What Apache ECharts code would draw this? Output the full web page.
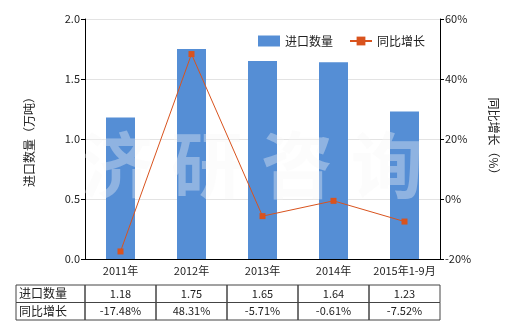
<!DOCTYPE html>
<html><head><meta charset="utf-8">
<script src="https://cdn.jsdelivr.net/npm/echarts@6/dist/echarts.min.js"></script>
<style>html,body{margin:0;padding:0;background:#fff}#c{width:520px;height:330px}</style>
</head><body><div id="c"></div>
<script>
const categories = ['2011年','2012年','2013年','2014年','2015年1-9月'];
const importQty = [1.18, 1.75, 1.65, 1.64, 1.23];
const yoyGrowth = [-17.48, 48.31, -5.71, -0.61, -7.52];
const seriesNames = ['进口数量', '同比增长'];
const leftAxisName = '进口数量（万吨）';
const rightAxisName = '同比增长（%）';
const watermark = '济研咨询';

const FONT = '"Noto Sans CJK SC", "Microsoft YaHei", sans-serif';
const chart = echarts.init(document.getElementById('c'), null, {renderer:'canvas'});
const option = {
  animation: false,
  backgroundColor: '#fff',
  textStyle: {fontFamily: FONT},
  legend: {
    top: 30, left: 253,
    itemWidth: 22, itemHeight: 11, itemGap: 16,
    textStyle: {fontSize: 12, color: '#222', fontFamily: FONT},
    data: [{name: seriesNames[0], icon: 'rect'}, {name: seriesNames[1]}]
  },
  grid: {left: 85, right: 80, top: 19, bottom: 71},
  xAxis: {
    type: 'category', data: categories,
    axisLine: {lineStyle: {color: '#000'}},
    axisTick: {alignWithLabel: true, length: 4, lineStyle: {color: '#000'}},
    axisLabel: {color: '#222', fontSize: 11, margin: 6, interval: 0, fontFamily: FONT}
  },
  yAxis: [{
    type: 'value', min: 0, max: 2, interval: 0.5,
    name: leftAxisName, nameLocation: 'middle', nameGap: 50, nameRotate: 90,
    nameTextStyle: {fontSize: 12, color: '#222', fontFamily: FONT},
    axisLine: {show: true, lineStyle: {color: '#000'}},
    axisTick: {show: true, length: 4, lineStyle: {color: '#000'}},
    axisLabel: {color: '#222', fontSize: 11, margin: 5, formatter: v => v.toFixed(1)},
    splitLine: {lineStyle: {color: '#e3e3e3'}}
  }, {
    type: 'value', min: -20, max: 60, interval: 20, position: 'right',
    name: rightAxisName, nameLocation: 'middle', nameGap: 48, nameRotate: -90,
    nameTextStyle: {fontSize: 12, color: '#222', fontFamily: FONT},
    axisLine: {show: true, lineStyle: {color: '#000'}},
    axisTick: {show: true, length: 4, lineStyle: {color: '#000'}},
    axisLabel: {color: '#222', fontSize: 11, margin: 5, formatter: '{value}%'},
    splitLine: {show: false}
  }],
  series: [{
    name: seriesNames[0], type: 'bar', data: importQty, barWidth: 29,
    itemStyle: {color: '#558ed5'}, z: 2
  }, {
    name: seriesNames[1], type: 'line', yAxisIndex: 1, data: yoyGrowth,
    symbol: 'rect', symbolSize: 6,
    lineStyle: {color: '#d9531e', width: 1},
    itemStyle: {color: '#d9531e'}, z: 4
  }]
};
chart.setOption(option);

// table and watermark, positioned from the axis scale
const cx = categories.map((c, i) => chart.convertToPixel({xAxisIndex: 0}, i));
const band = cx[1] - cx[0];
const y0 = 285, rh = 17.5;
const tableLeft = 16;
const gfx = [];
const rows = [
  {label: seriesNames[0], vals: importQty.map(v => v.toFixed(2))},
  {label: seriesNames[1], vals: yoyGrowth.map(v => v.toFixed(2) + '%')}
];
rows.forEach((r, ri) => {
  const y = y0 + ri * rh;
  const firstLeft = cx[0] - band / 2;
  gfx.push({type: 'rect', shape: {x: tableLeft, y: y, width: firstLeft - tableLeft, height: rh},
    style: {fill: 'none', stroke: '#444', lineWidth: 1}, z: 10});
  gfx.push({type: 'text', x: tableLeft + 3, y: y + rh / 2,
    style: {text: r.label, fill: '#222', font: '12px ' + FONT, textVerticalAlign: 'middle', verticalAlign: 'middle'}, z: 11});
  r.vals.forEach((v, i) => {
    gfx.push({type: 'rect', shape: {x: cx[i] - band / 2, y: y, width: band, height: rh},
      style: {fill: 'none', stroke: '#444', lineWidth: 1}, z: 10});
    gfx.push({type: 'text', x: cx[i], y: y + rh / 2,
      style: {text: v, fill: '#222', font: '11px ' + FONT, align: 'center', textAlign: 'center', verticalAlign: 'middle', textVerticalAlign: 'middle'}, z: 11});
  });
});
const wmStart = 117, wmStep = 90;
watermark.split('').forEach((ch, i) => {
  gfx.push({type: 'text', x: wmStart + i * wmStep, y: 165,
    style: {text: ch, fill: 'rgba(246,246,246,0.36)', font: 'bold 72px ' + FONT,
      align: 'center', textAlign: 'center', verticalAlign: 'middle', textVerticalAlign: 'middle'}, z: 3, silent: true});
});
chart.setOption({graphic: gfx});
</script></body></html>
